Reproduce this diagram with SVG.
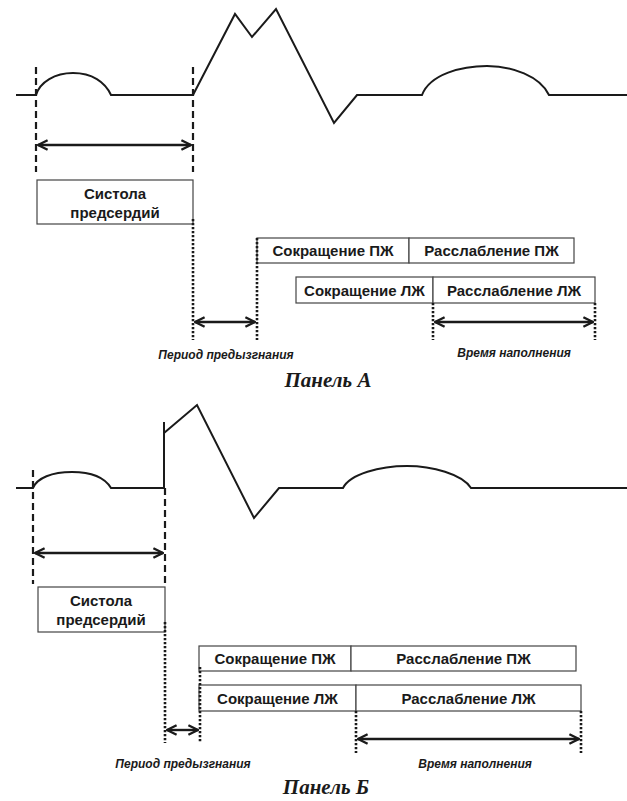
<svg xmlns="http://www.w3.org/2000/svg" width="627" height="801" viewBox="0 0 627 801">
<style>
.ecg{fill:none;stroke:#1a1a1a;stroke-width:2;stroke-linejoin:miter}
.dash{stroke:#1a1a1a;stroke-width:2.2;stroke-dasharray:7,4;fill:none}
.dot{stroke:#1a1a1a;stroke-width:2.6;stroke-dasharray:2.2,1.8;fill:none}
.arr{stroke:#1a1a1a;stroke-width:2.4;fill:none;marker-start:url(#ah);marker-end:url(#ah)}
.box{fill:#fff;stroke:#444;stroke-width:1.2}
.lbl{font-family:"Liberation Sans",Arial,sans-serif;font-weight:bold;font-size:15px;fill:#1a1a1a;text-anchor:middle}
.cap{font-family:"Liberation Sans",Arial,sans-serif;font-weight:bold;font-style:italic;font-size:12px;fill:#1a1a1a;text-anchor:middle}
.pan{font-family:"Liberation Serif","DejaVu Serif",serif;font-style:italic;font-weight:bold;font-size:21px;fill:#1a1a1a;text-anchor:middle}
</style>
<defs>
<marker id="ah" viewBox="0 0 10 10" refX="9" refY="5" markerWidth="5" markerHeight="5" orient="auto-start-reverse" markerUnits="strokeWidth">
<path d="M1,1 L9,5 L1,9" fill="none" stroke="#1a1a1a" stroke-width="2"/>
</marker>
</defs>

<g id="panelA">
<g id="ecgA">
<path class="ecg" d="M16,95 L36,95 C40,82 55,73 73,73 C92,73 105,82 111,95 L193,95 L235,14 L252,37 L276,9 L334,123 L357,95 L422,95 C430,74 462,66 487,66 C512,66 540,76 549,95 L627,95"/>
</g>
<g id="boxA-atrial">
<rect class="box" x="37" y="180" width="156" height="44"/>
<text class="lbl" x="115" y="199">Систола</text>
<text class="lbl" x="115" y="218">предсердий</text>
</g>
<g id="boxA-rv">
<rect class="box" x="257" y="238" width="152" height="25"/>
<text class="lbl" x="333" y="256">Сокращение ПЖ</text>
<rect class="box" x="409" y="238" width="165" height="25"/>
<text class="lbl" x="491.5" y="256">Расслабление ПЖ</text>
</g>
<g id="boxA-lv">
<rect class="box" x="296" y="277" width="137" height="26"/>
<text class="lbl" x="364.5" y="295.5">Сокращение ЛЖ</text>
<rect class="box" x="433" y="277" width="162" height="26"/>
<text class="lbl" x="514" y="295.5">Расслабление ЛЖ</text>
</g>
<g id="labelsA">
<text class="cap" x="226" y="359">Период предызгнания</text>
<text class="cap" x="514" y="357">Время наполнения</text>
<text class="pan" x="328" y="387">Панель А</text>
</g>
</g>

<g id="panelB">
<g id="ecgB">
<path class="ecg" d="M16,488 L33,488 C37,478 52,472 72,472 C92,472 105,478 111,488 L164,488 L164,422 M164,433 L197,405 L254,518 L279,488 L343,488 C350,474 380,466 407,466 C432,466 462,474 471,488 L627,488"/>
</g>
<g id="boxB-atrial">
<rect class="box" x="38" y="587" width="127" height="45"/>
<text class="lbl" x="101" y="606">Систола</text>
<text class="lbl" x="101" y="625">предсердий</text>
</g>
<g id="boxB-rv">
<rect class="box" x="199" y="646" width="152" height="25"/>
<text class="lbl" x="275" y="664">Сокращение ПЖ</text>
<rect class="box" x="351" y="646" width="225" height="25"/>
<text class="lbl" x="463.5" y="664">Расслабление ПЖ</text>
</g>
<g id="boxB-lv">
<rect class="box" x="199" y="685" width="157" height="26"/>
<text class="lbl" x="277.5" y="703.5">Сокращение ЛЖ</text>
<rect class="box" x="356" y="685" width="225" height="26"/>
<text class="lbl" x="468.5" y="703.5">Расслабление ЛЖ</text>
</g>
<g id="labelsB">
<text class="cap" x="183" y="768">Период предызгнания</text>
<text class="cap" x="475" y="768">Время наполнения</text>
<text class="pan" x="326" y="794">Панель Б</text>
</g>
</g>

<g id="connectors">
<line class="dash" x1="36" y1="67" x2="36" y2="172"/>
<line class="dash" x1="193" y1="67" x2="193" y2="172"/>
<line class="arr" x1="38" y1="145" x2="191" y2="145"/>
<line class="dot" x1="193" y1="219" x2="193" y2="340"/>
<line class="dot" x1="257" y1="238" x2="257" y2="340"/>
<line class="arr" x1="195" y1="322" x2="255" y2="322"/>
<line class="dot" x1="433" y1="303" x2="433" y2="340"/>
<line class="dot" x1="595" y1="303" x2="595" y2="340"/>
<line class="arr" x1="435" y1="322" x2="593" y2="322"/>

<line class="dash" x1="33" y1="470" x2="33" y2="584"/>
<line class="dash" x1="165" y1="488" x2="165" y2="584"/>
<line class="arr" x1="35" y1="553" x2="163" y2="553"/>
<line class="dot" x1="165" y1="622" x2="165" y2="743"/>
<line class="dot" x1="200" y1="667" x2="200" y2="743"/>
<line class="arr" x1="167" y1="730" x2="198" y2="730"/>
<line class="dot" x1="356" y1="711" x2="356" y2="753"/>
<line class="dot" x1="581" y1="711" x2="581" y2="753"/>
<line class="arr" x1="358" y1="739" x2="579" y2="739"/>
</g>
</svg>
